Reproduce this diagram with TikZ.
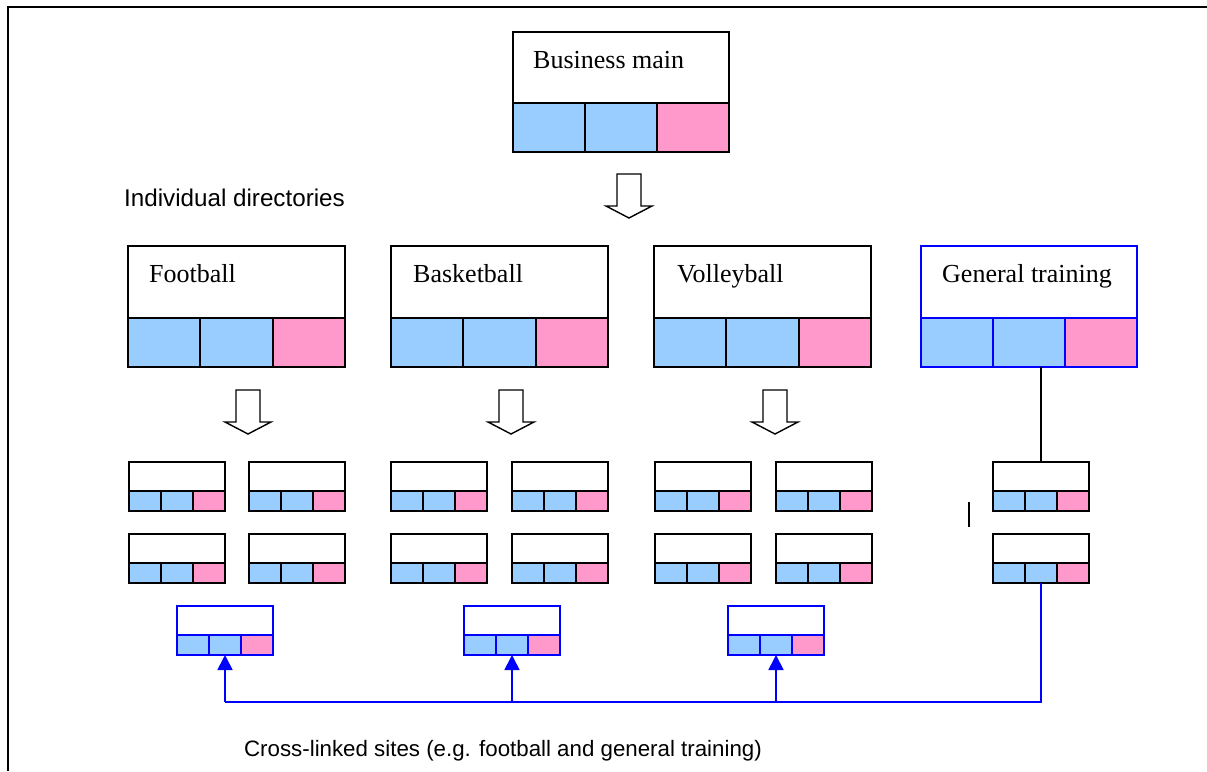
\documentclass[tikz,border=0pt]{standalone}
\usepackage{fontspec}
\setmainfont{Liberation Serif}
\setsansfont{Liberation Sans}
\usetikzlibrary{arrows.meta}

\definecolor{cellblue}{HTML}{99CCFF}
\definecolor{cellpink}{HTML}{FF99CC}
\definecolor{linkblue}{HTML}{0000FF}

\tikzset{
  part/.style={draw, line width=1.8pt, inner sep=0pt, outer sep=0pt, anchor=north west, rectangle},
  sitename/.style={anchor=base west, inner sep=0pt, font=\fontsize{26}{30}\selectfont},
  caption/.style={inner sep=0pt, font=\sffamily\fontsize{23}{27}\selectfont},
  hollow/.style={draw, line width=1.4pt, fill=white, line join=miter},
  linkline/.style={draw=linkblue, line width=1.8pt},
  plainline/.style={draw, line width=1.8pt},
  frameline/.style={draw, line width=2.2pt}
}

% site box: name, left, top, width, upper height, cell height, border colour
\newcommand\sitebox[7]{%
  \pgfmathsetmacro\cellw{#4/3}%
  \node[part, draw=#7, fill=white, minimum width=#4pt, minimum height=#5pt] (#1) at (#2,#3) {};
  \node[part, draw=#7, fill=cellblue, minimum width=\cellw pt, minimum height=#6pt] (#1-1) at (#1.south west) {};
  \node[part, draw=#7, fill=cellblue, minimum width=\cellw pt, minimum height=#6pt] (#1-2) at (#1-1.north east) {};
  \node[part, draw=#7, fill=cellpink, minimum width=\cellw pt, minimum height=#6pt] (#1-3) at (#1-2.north east) {};
}

% hollow block arrow pointing down: centre x, top y
\newcommand\blockarrow[2]{%
  \draw[hollow] (#1-12,#2) -- (#1+12,#2) -- (#1+12,#2+32) -- (#1+23,#2+32)
    -- (#1,#2+44) -- (#1-23,#2+32) -- (#1-12,#2+32) -- cycle;
}

\begin{document}
\begin{tikzpicture}[x=1pt, y=-1pt]
  \useasboundingbox (0,0) rectangle (1207,771);

  % outer frame (top and left edges)
  \coordinate (frameTL) at (8,7);
  \coordinate (frameTR) at (1207,7);
  \coordinate (frameBL) at (8,771);
  \draw[frameline] (frameTR) -- (frameTL) -- (frameBL);

  % main site
  \sitebox{main}{513}{32}{216}{71}{49}{black}
  \node[sitename] (mainlabel) at ([xshift=20pt,yshift=-36pt]main.north west) {Business main};
  \blockarrow{629}{174}

  \node[caption, anchor=base west, font=\sffamily\fontsize{24.2}{28}\selectfont] (indiv) at (124,206) {Individual directories};

  % individual directories
  \sitebox{fb}{128}{246}{217}{72}{49}{black}
  \sitebox{bb}{391}{246}{217}{72}{49}{black}
  \sitebox{vb}{654}{246}{217}{72}{49}{black}
  \sitebox{gt}{921}{246}{216}{72}{49}{linkblue}
  \node[sitename] (fblabel) at ([xshift=21pt,yshift=-36pt]fb.north west) {Football};
  \node[sitename] (bblabel) at ([xshift=22pt,yshift=-36pt]bb.north west) {Basketball};
  \node[sitename] (vblabel) at ([xshift=23pt,yshift=-36pt]vb.north west) {Volleyball};
  \node[sitename] (gtlabel) at ([xshift=21pt,yshift=-36pt]gt.north west) {General training};

  \blockarrow{248}{390}
  \blockarrow{511}{390}
  \blockarrow{775}{390}

  % sub-sites
  \sitebox{fbA}{129}{462}{96}{29}{20}{black}
  \sitebox{fbB}{249}{462}{96}{29}{20}{black}
  \sitebox{fbC}{129}{534}{96}{29}{20}{black}
  \sitebox{fbD}{249}{534}{96}{29}{20}{black}

  \sitebox{bbA}{391}{462}{96}{29}{20}{black}
  \sitebox{bbB}{512}{462}{96}{29}{20}{black}
  \sitebox{bbC}{391}{534}{96}{29}{20}{black}
  \sitebox{bbD}{512}{534}{96}{29}{20}{black}

  \sitebox{vbA}{655}{462}{96}{29}{20}{black}
  \sitebox{vbB}{776}{462}{96}{29}{20}{black}
  \sitebox{vbC}{655}{534}{96}{29}{20}{black}
  \sitebox{vbD}{776}{534}{96}{29}{20}{black}

  \sitebox{gtA}{993}{462}{96}{29}{20}{black}
  \sitebox{gtB}{993}{534}{96}{29}{20}{black}

  \draw[plainline] (gtA.north) -- (gtA.north |- gt-2.south);
  \coordinate (tickTop) at (969,502);
  \coordinate (tickBot) at (969,527);
  \draw[line width=1.6pt] (tickTop) -- (tickBot);

  % cross-linked sites
  \sitebox{xf}{177}{606}{96}{29}{20}{linkblue}
  \sitebox{xb}{464}{606}{96}{29}{20}{linkblue}
  \sitebox{xv}{728}{606}{96}{29}{20}{linkblue}

  \coordinate (rail) at (0,702);
  \draw[linkline] (gtB-2.south) -- (gtB-2.south |- rail) -- (xf-2.south |- rail);
  \foreach \s in {xf,xb,xv}
    \draw[linkline, -{Triangle[width=15pt,length=15pt]}] (\s-2.south |- rail) -- (\s-2.south);

  \node[caption, anchor=base, font=\sffamily\fontsize{22.3}{26}\selectfont] (crosslabel) at (503,756) {Cross-linked sites (e.g. football and general training)};
\end{tikzpicture}
\end{document}
